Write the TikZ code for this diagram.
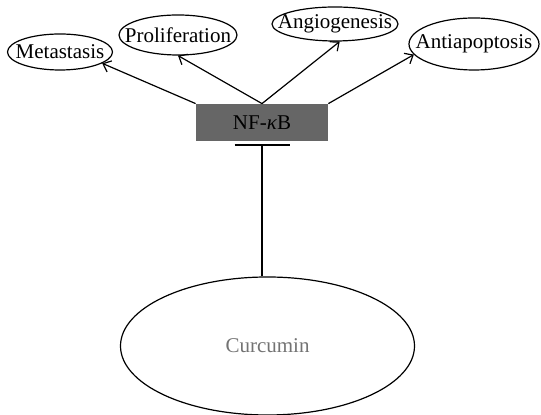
\documentclass[tikz,border=0pt]{standalone}
\usepackage{fontspec}
\setmainfont{Liberation Serif}
\usetikzlibrary{shapes.geometric,arrows.meta}

\begin{document}
\begin{tikzpicture}[x=0.5pt,y=-0.5pt,
    font=\fontsize{10.5}{13}\selectfont,
    effect/.style={ellipse, draw, semithick, inner xsep=-30pt, inner ysep=-10pt},
    hub/.style={rectangle, fill=black!60, minimum width=66pt, minimum height=18.5pt, inner sep=0pt},
    act/.style={-{Straight Barb[length=3.5pt,width=6pt]}, semithick},
    block/.style={-{Bar[width=27.5pt]}, semithick, shorten >=1.5pt}]
    \useasboundingbox (0,0) rectangle (541,415);

    % Downstream effects
    \node [effect, minimum width=52.5pt, minimum height=18pt] (metastasis) at (60,52) {Metastasis};
    \node [effect, minimum width=59pt, minimum height=20pt] (prolif) at (178,35) {Proliferation};
    \node [effect, minimum width=63pt, minimum height=17pt] (angio) at (335,24) {Angiogenesis};
    \node [effect, minimum width=65pt, minimum height=26pt] (antiapop) at (474,44) {Antiapoptosis};

    % Transcription factor
    \node [hub] (nfkb) at (262,122.5) {NF-\textit{κ}B};

    % Inhibitor
    \node [effect, minimum width=147pt, minimum height=69pt, text=black!55] (curcumin) at (267.5,346) {Curcumin};

    % Arrows
    \draw[act] (nfkb.north west) -- (metastasis.-15);
    \draw[act] (nfkb.north) -- (prolif.south);
    \draw[act] (nfkb.north) -- (angio.-75);
    \draw[act] (nfkb.north east) -- (antiapop.190);
    \draw[block] (curcumin.north -| nfkb.south) -- (nfkb.south);
\end{tikzpicture}
\end{document}
